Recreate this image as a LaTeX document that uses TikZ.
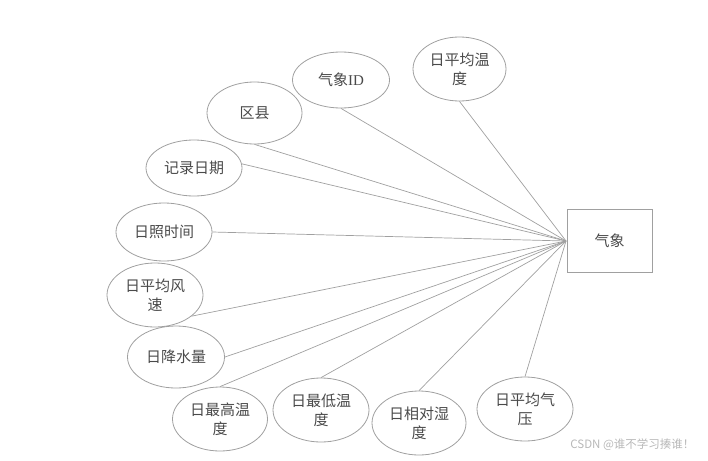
\documentclass[tikz,border=0pt]{standalone}
\usepackage{fontspec}
\setmainfont{Liberation Serif}
\newfontfamily\cjk{Noto Sans CJK SC}
\usetikzlibrary{shapes.geometric}
\definecolor{txt}{HTML}{4A4A4A}
\definecolor{edge}{HTML}{A0A0A0}
\definecolor{wm}{HTML}{B8B8B8}
\begin{document}
\begin{tikzpicture}[x=1pt,y=-1pt,
  attr/.style={ellipse,draw=edge,line width=0.8pt,inner sep=0pt,minimum width=96pt,minimum height=62pt,
    font=\cjk\fontsize{15}{19}\selectfont,text=txt,align=center},
  ent/.style={rectangle,draw=edge,line width=0.8pt,minimum width=85pt,minimum height=63pt,
    font=\cjk\fontsize{15}{19}\selectfont,text=txt},
  conn/.style={draw=edge,line width=0.7pt}]
\useasboundingbox (0,0) rectangle (708,460);
\node[ent] (qx) at (609.5,240.5) {气象};
\coordinate (hub) at (566,241);
\node[attr,minimum width=93pt,minimum height=64pt] (e1) at (459.5,69) {日平均温\\度};
\node[attr,minimum width=97pt,minimum height=56pt] (e2) at (341,80) {气象{\rmfamily ID}};
\node[attr,minimum width=95pt] (e3) at (254.5,113) {区县};
\node[attr,minimum height=56pt] (e4) at (194,168) {记录日期};
\node[attr,minimum height=58pt] (e5) at (164,232) {日照时间};
\node[attr,minimum height=64pt] (e6) at (155,295) {日平均风\\速};
\node[attr,minimum width=97pt] (e7) at (176,357) {日降水量};
\node[attr,minimum width=95pt,minimum height=64pt] (e8) at (220,419) {日最高温\\度};
\node[attr,minimum height=64pt] (e9) at (321,410) {日最低温\\度};
\node[attr,minimum width=94pt,minimum height=64pt] (e10) at (419,423) {日相对湿\\度};
\node[attr,minimum height=64pt] (e11) at (525,409) {日平均气\\压};
\draw[conn] (e1.south) -- (hub);
\draw[conn] (e2.south) -- (hub);
\draw[conn] (e3.south) -- (hub);
\draw[conn] (e4.5) -- (hub);
\draw[conn] (e5.east) -- (hub);
\draw[conn] (e6.-30) -- (hub);
\draw[conn] (e7.east) -- (hub);
\draw[conn] (e8.north) -- (hub);
\draw[conn] (e9.north) -- (hub);
\draw[conn] (e10.north) -- (hub);
\draw[conn] (e11.north) -- (hub);
\node[font=\cjk\fontsize{11.5}{13}\selectfont,text=wm,anchor=east] (wmk) at (698,445) {CSDN @谁不学习揍谁！};
\end{tikzpicture}
\end{document}
